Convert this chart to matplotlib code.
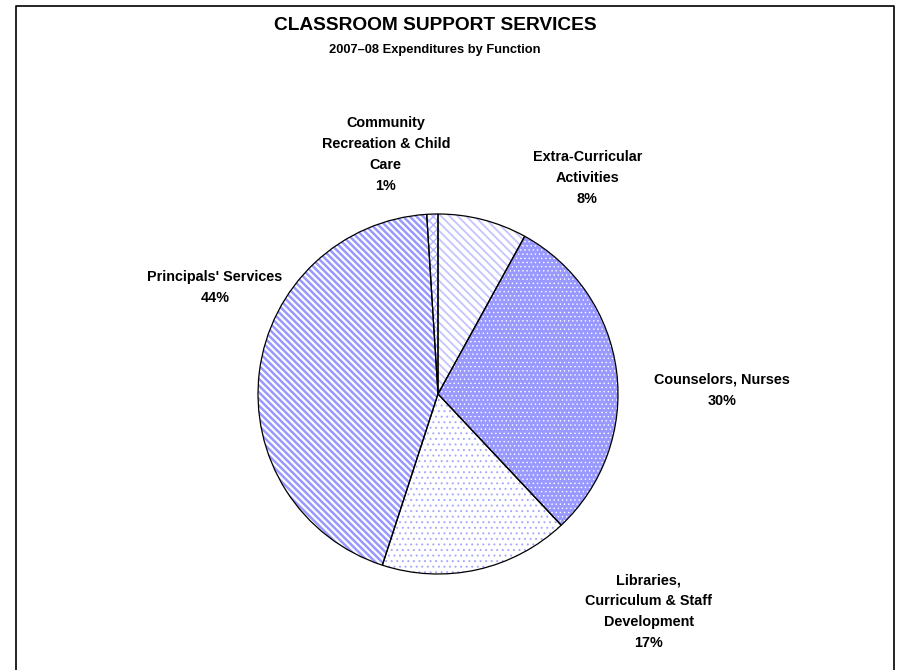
import matplotlib as mpl
import matplotlib.pyplot as plt
from matplotlib.patches import Wedge
from matplotlib.lines import Line2D

plt.rcParams['font.family'] = ['Liberation Sans', 'DejaVu Sans']

# expenditure shares, clockwise from 12 o'clock
functions = ["Extra-Curricular\nActivities",
             "Counselors, Nurses",
             "Libraries,\nCurriculum & Staff\nDevelopment",
             "Principals' Services",
             "Community\nRecreation & Child\nCare"]
shares = [8, 30, 17, 44, 1]

# fill, hatch pattern, hatch colour and hatch width per slice
fills = ['white', '#9999ff', 'white', 'white', 'white']
hatches = ['\\' * 4, '....', '...', '\\' * 5, 'xxxx']
hatch_colors = ['#c4c4ff', 'white', '#a8a8ff', '#9999ff', '#b4b4ff']
hatch_widths = [1.3, 0.5, 0.7, 1.8, 1.0]

# label placement (radius multiples, relative to pie centre)
label_pos = [(0.83, 1.20), (1.58, 0.02), (1.17, -1.21), (-1.24, 0.59), (-0.29, 1.33)]

W, H = 899, 670
fig = plt.figure(figsize=(W / 100, H / 100), dpi=100)

# outer frame (open at the bottom)
fx = [15.5 / W, 15.5 / W, 893.5 / W, 893.5 / W]
fy = [0, 1 - 5.5 / H, 1 - 5.5 / H, 0]
fig.add_artist(Line2D(fx, fy, color='black', lw=1.2, transform=fig.transFigure))

fig.text(435 / W, 1 - 26 / H, "CLASSROOM SUPPORT SERVICES", ha='center', va='center',
         fontsize=13.8, fontweight='bold')
fig.text(435 / W, 1 - 50 / H, "2007\u201308 Expenditures by Function", ha='center',
         va='center', fontsize=9.3, fontweight='bold')

cx, cy, r = 438, 394, 180
ax = fig.add_axes([(cx - r) / W, (H - cy - r) / H, 2 * r / W, 2 * r / H])

wedges, _ = ax.pie(shares, colors=fills, startangle=90, counterclock=False,
                   radius=1, wedgeprops=dict(edgecolor='none', linewidth=0))
ax.set_xlim(-1, 1)
ax.set_ylim(-1, 1)
ax.set_aspect('equal')
ax.axis('off')

for w, h, hc, hw, lab, (lx, ly), s in zip(wedges, hatches, hatch_colors, hatch_widths,
                                          functions, label_pos, shares):
    # hatch layer
    with mpl.rc_context({'hatch.linewidth': hw}):
        ax.add_patch(Wedge(w.center, w.r, w.theta1, w.theta2, fill=False, hatch=h,
                           edgecolor=hc, linewidth=0, zorder=2))
    # outline
    ax.add_patch(Wedge(w.center, w.r, w.theta1, w.theta2, fill=False,
                       edgecolor='black', linewidth=0.9, zorder=3, clip_on=False))
    ax.text(lx, ly, f"{lab}\n{s}%", ha='center', va='center', fontsize=10.4,
            fontweight='bold', linespacing=1.62, clip_on=False)

fig.savefig('out.png', dpi=100)
